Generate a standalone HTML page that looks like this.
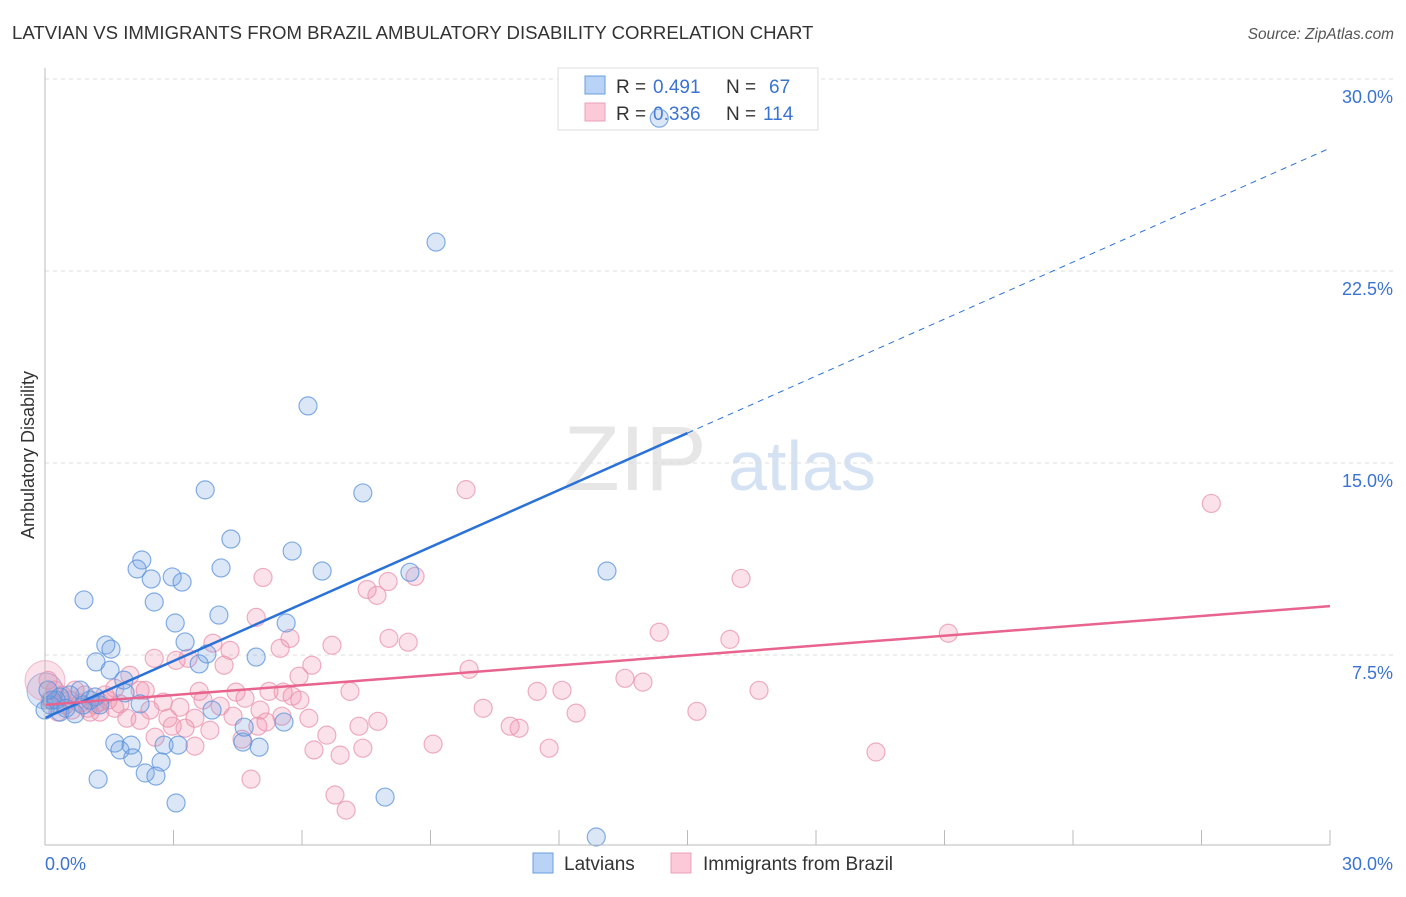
<!DOCTYPE html>
<html><head><meta charset="utf-8"><style>
body{margin:0;background:#fff;font-family:"Liberation Sans",sans-serif;}
svg text{font-family:"Liberation Sans",sans-serif;}
</style></head><body>
<svg id="c" width="1406" height="892">
<text x="12" y="39" font-size="18.6" fill="#333">LATVIAN VS IMMIGRANTS FROM BRAZIL AMBULATORY DISABILITY CORRELATION CHART</text>
<text x="1394" y="39" font-size="15.4" fill="#555" font-style="italic" text-anchor="end">Source: ZipAtlas.com</text>
<text x="0" y="0" font-size="18" fill="#333" transform="translate(34,455) rotate(-90)" text-anchor="middle">Ambulatory Disability</text>
<g><text x="635" y="490" font-size="92" fill="#e6e6e6" font-family="Liberation Serif" text-anchor="middle">ZIP</text><text x="802" y="490" font-size="70" fill="#d4e2f4" text-anchor="middle">atlas</text></g>
<g id="grid"></g><g id="ticks"></g>
<g>
<rect x="558" y="68" width="260" height="62" fill="#fff" stroke="#ddd"/>
<rect x="585" y="76" width="20" height="18" fill="#b8d3f5" stroke="#6a9ee0"/>
<rect x="585" y="103" width="20" height="18" fill="#fbc9d8" stroke="#eda0b8"/>
<text x="616" y="93" font-size="19" fill="#333">R =</text>
<text x="653" y="93" font-size="19" fill="#3b73d0">0.491</text>
<text x="726" y="93" font-size="19" fill="#333">N =</text>
<text x="769" y="93" font-size="19" fill="#3b73d0">67</text>
<text x="616" y="120" font-size="19" fill="#333">R =</text>
<text x="653" y="120" font-size="19" fill="#3b73d0">0.336</text>
<text x="726" y="120" font-size="19" fill="#333">N =</text>
<text x="763" y="120" font-size="19" fill="#3b73d0">114</text>
</g>
<g id="pts"></g><g id="lines"></g>
<line x1="45" y1="68" x2="45" y2="845" stroke="#bbb"/>
<line x1="45" y1="845" x2="1330" y2="845" stroke="#bbb"/>
<text x="45" y="870" font-size="18" fill="#3b73d0">0.0%</text>
<text x="1393" y="870" font-size="18" fill="#3b73d0" text-anchor="end">30.0%</text>
<g>
<rect x="533" y="853" width="20" height="20" fill="#b8d3f5" stroke="#6a9ee0"/>
<text x="564" y="870" font-size="19" fill="#333">Latvians</text>
<rect x="671" y="853" width="20" height="20" fill="#fbc9d8" stroke="#eda0b8"/>
<text x="703" y="870" font-size="19" fill="#333">Immigrants from Brazil</text>
</g>
</svg>
<script>
const yTicks=[7.5,15,22.5,30];
const yTickLabels=["7.5%","15.0%","22.5%","30.0%"];
const xTicks=[0,3,6,9,12,15,18,21,24,27,30];
const blueX=[14.34,9.13,6.14,7.42,3.74,4.34,5.77,2.26,2.15,2.48,2.97,3.20,4.11,6.47,13.12,0.91,2.55,4.06,3.04,5.63,1.42,1.54,3.27,3.78,1.19,3.60,1.52,4.93,1.84,1.87,0.82,0.58,0.35,0.16,0,0.12,1.17,2.22,0.35,0.70,1.63,1.75,2.01,2.05,2.78,3.11,2.71,2.34,2.59,1.24,4.62,5.00,4.65,5.58,3.90,3.06,7.94,12.87,8.52,0.26,0.49,0.89,1.28,1.05,0.07];
const blueY=[28.47,23.63,17.23,13.83,13.95,12.03,11.56,11.21,10.86,10.47,10.55,10.35,10.90,10.78,10.78,9.65,9.57,9.06,8.75,8.75,7.89,7.73,8.01,7.54,7.23,7.15,6.91,7.42,6.52,6.02,6.13,5.94,5.86,5.74,5.35,5.55,5.86,5.59,5.27,5.20,4.06,3.79,3.98,3.48,3.98,3.98,3.32,2.89,2.77,2.65,4.10,3.90,4.68,4.88,5.35,1.72,1.95,0.39,10.73,5.74,5.42,5.55,5.55,5.74,6.13];
const pinkX=[27.23,9.83,5.09,16.25,8.64,7.52,7.75,8.01,4.93,5.72,6.70,8.03,8.48,14.34,15.99,21.09,2.55,3.06,3.34,3.92,4.32,4.18,5.93,6.23,5.49,9.90,13.54,13.96,11.49,12.07,16.67,7.12,3.60,4.46,4.67,5.23,5.56,5.77,1.63,1.98,2.34,2.76,3.15,3.69,4.09,4.39,2.87,1.91,2.22,2.57,2.97,3.27,3.50,4.60,4.97,5.16,5.53,6.16,6.58,6.28,6.89,7.42,7.33,7.77,9.06,10.23,10.86,11.07,11.77,12.40,15.22,19.40,4.81,6.77,7.03,0.07,0.23,0.40,0.58,0.82,1.00,1.28,1.47,1.75,0.63,0.30,1.05,1.28,3.50,3.85,2.45,5.02,5.95,2.22,0.12,0.47,0.70,0.93,1.17,1.40,1.63];
const pinkY=[13.42,13.96,10.53,10.49,10.57,10.06,9.83,10.37,8.97,8.15,7.88,8.15,8.00,8.39,8.11,8.35,7.37,7.29,7.37,7.96,7.68,7.10,6.67,7.10,7.76,6.94,6.59,6.44,6.08,6.12,6.12,6.08,6.08,6.05,5.81,6.08,6.05,5.89,6.20,6.71,6.12,5.66,5.46,5.74,5.50,5.11,5.03,5.03,4.95,4.29,4.72,4.64,3.94,4.21,4.72,4.88,5.11,5.03,4.37,3.79,3.59,3.86,4.72,4.91,4.02,5.42,4.72,4.64,3.86,5.23,5.30,3.71,2.65,2.03,1.44,6.51,6.13,5.94,5.74,5.62,5.42,5.66,5.74,5.59,5.35,5.27,5.27,5.27,5.03,4.56,5.35,5.35,5.74,6.12,5.74,5.55,6.13,5.94,5.55,5.94,5.42];
const blueLine=[5.04,0.742];
const pinkLine=[5.55,0.1287];
const NS="http://www.w3.org/2000/svg";
const sx=v=>45+v*42.833, sy=v=>847-v*25.6;
function mk(t,a,p){const e=document.createElementNS(NS,t);for(const k in a)e.setAttribute(k,a[k]);p.appendChild(e);return e;}
const grid=document.getElementById('grid'),ticks=document.getElementById('ticks'),pts=document.getElementById('pts'),lines=document.getElementById('lines');
yTicks.forEach((v,i)=>{
 const l=mk('line',{x1:45,x2:1393,y1:sy(v),y2:sy(v),stroke:'#ddd','stroke-dasharray':'4,4'},grid);
 
 
 const t=mk('text',{x:1393,y:sy(v)+24,'font-size':18,fill:'#3b73d0','text-anchor':'end'},grid);
 t.textContent=yTickLabels[i];
 
 
});
xTicks.forEach(v=>{
 const l=mk('line',{x1:sx(v),x2:sx(v),y1:830,y2:845,stroke:'#bbb'},ticks);
 
 
});
let b=mk('circle',{cx:sx(0),cy:sy(6.1),r:18,fill:'rgba(110,160,225,0.25)',stroke:'rgba(91,147,220,0.6)'},pts);


let p=mk('circle',{cx:sx(0),cy:sy(6.5),r:20,fill:'rgba(240,140,170,0.25)',stroke:'rgba(234,147,174,0.6)'},pts);


pinkX.forEach((x,i)=>{
 const c=mk('circle',{cx:sx(x),cy:sy(pinkY[i]),r:9,fill:'rgba(240,140,170,0.25)',stroke:'rgba(234,147,174,0.75)','stroke-width':1.2},pts);
 
 
});
blueX.forEach((x,i)=>{
 const c=mk('circle',{cx:sx(x),cy:sy(blueY[i]),r:9,fill:'rgba(110,160,225,0.25)',stroke:'rgba(91,147,220,0.75)','stroke-width':1.2},pts);
 
 
});
let bl=mk('line',{x1:sx(0),y1:sy(blueLine[0]),x2:sx(15),y2:sy(blueLine[0]+15*blueLine[1]),stroke:'#2a72d8','stroke-width':2.5},lines);


let bd=mk('line',{x1:sx(15),y1:sy(blueLine[0]+15*blueLine[1]),x2:sx(30),y2:sy(blueLine[0]+30*blueLine[1]),stroke:'#2a72d8','stroke-width':1,'stroke-dasharray':'6,5'},lines);


let pl=mk('line',{x1:sx(0),y1:sy(pinkLine[0]),x2:sx(30),y2:sy(pinkLine[0]+30*pinkLine[1]),stroke:'#e8648f','stroke-width':2.5},lines);


</script>
</body></html>
